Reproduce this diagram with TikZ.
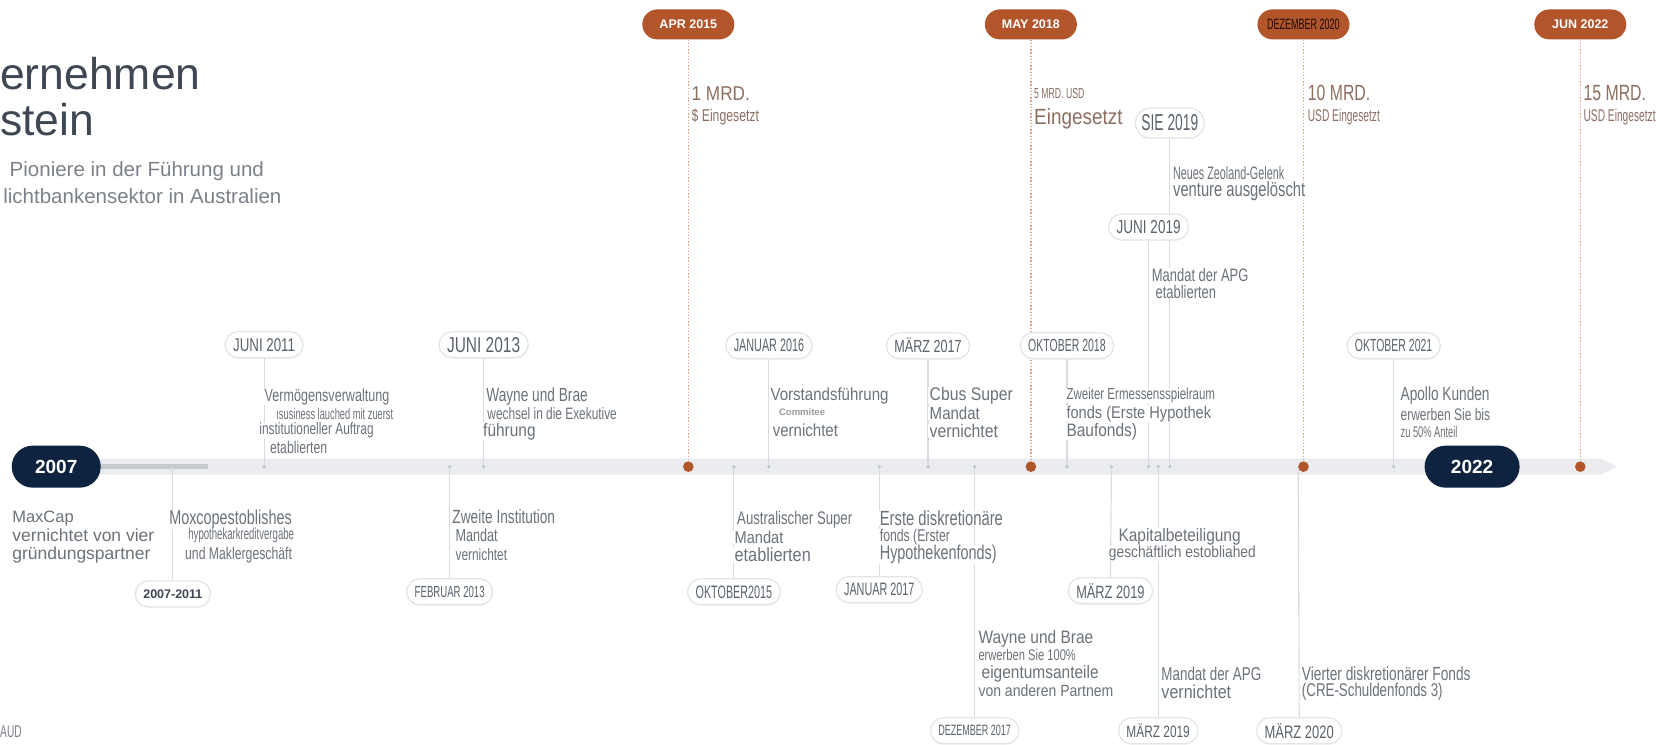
\documentclass[tikz,border=0pt]{standalone}
\usepackage{fontspec}
\setmainfont{Liberation Sans}
\newfontfamily\nara[FakeStretch=0.72]{Liberation Sans}
\newfontfamily\narb[FakeStretch=0.86]{Liberation Sans}
\newfontfamily\narc[FakeStretch=0.6]{Liberation Sans}
\usetikzlibrary{shadows}
\pgfdeclarelayer{bg}
\pgfsetlayers{bg,main}
\newcommand\fsz[1]{\fontsize{#1}{#1}\selectfont}
\definecolor{navy}{HTML}{0E2340}
\definecolor{rust}{HTML}{B2552B}
\definecolor{rustl}{HTML}{D9A68E}
\definecolor{axl}{HTML}{EAECEF}
\definecolor{axd}{HTML}{C6CACF}
\definecolor{connc}{HTML}{D8DBDF}
\definecolor{pdraw}{HTML}{E3E6E9}
\definecolor{ptext}{HTML}{5A626B}
\definecolor{dtext}{HTML}{6C727A}
\definecolor{mtext}{HTML}{8C6E61}
\definecolor{ttext}{HTML}{3F4752}
\definecolor{stext}{HTML}{7C8189}
\definecolor{gdot}{HTML}{C3C7CC}
\tikzset{
 gpill/.style={draw=pdraw, line width=1.3pt, fill=white, rounded corners=13pt, minimum height=26pt, inner xsep=8pt, inner ysep=2pt, text=ptext, drop shadow={shadow xshift=0pt, shadow yshift=-1.2pt, opacity=0.07}},
 opill/.style={fill=rust, rounded corners=15pt, minimum height=30pt, minimum width=92pt, text=white, font=\bfseries\fsz{12.5}},
 npill/.style={fill=navy, rounded corners=21pt, minimum height=42pt, text=white, font=\bfseries\fsz{19}},
 desc/.style={anchor=west, inner xsep=1.5pt, inner ysep=0pt, fill=white, text=dtext},
 money/.style={anchor=west, inner sep=1pt, text=mtext},
 conn/.style={draw=connc, line width=1.1pt},
 oline/.style={draw=rustl, line width=1.4pt, dash pattern=on 1.4pt off 1.8pt},
 ttl/.style={anchor=west, inner sep=0pt},
}
\begin{document}
\begin{tikzpicture}[x=1.0606pt,y=-1.0606pt]
\useasboundingbox (0,0) rectangle (1568,701.5);

% title
\node[ttl, text=ttext, font=\fsz{44.5}] (ti1) at (0,69) {ernehmen};
\node[ttl, text=ttext, font=\fsz{44.5}] (ti2) at (0,113) {stein};
\node[ttl, text=stext, font=\fsz{20.5}] (ti3) at (9,161) {Pioniere in der Führung und};
\node[ttl, text=stext, font=\fsz{20.5}] (ti4) at (3,185) {lichtbankensektor in Australien};
\node[ttl, text=stext, font=\narc\fsz{17}] (aud) at (0,690) {AUD};

% axis coordinates
\foreach \x in {249,424,456,692,725,829,875,919,1006,1048,1083,1092,1103,1224,1314,163}
  {\coordinate (a\x) at (\x,440);}
\foreach \x in {649,972,1229,1490}
  {\coordinate (o\x) at (\x,440);}

% orange milestone pills
\node[opill] (apr) at (649,23) {APR 2015};
\node[opill] (may) at (972,23) {MAY 2018};
\node[opill, font=\narc\fsz{15}, text=black!85!rust] (dez) at (1229,23) {DEZEMBER 2020};
\node[opill] (jun) at (1490,23) {JUN 2022};

\node[money, font=\narb\fsz{20}] (m1a) at (651,88) {1 MRD.};
\node[money, font=\nara\fsz{17}] (m1b) at (651,110) {\$ Eingesetzt};
\node[money, font=\narc\fsz{14.5}] (m2a) at (974,88) {5 MRD. USD};
\node[money, font=\narb\fsz{22}] (m2b) at (974,112) {Eingesetzt};
\node[money, font=\nara\fsz{22}] (m3a) at (1232,88) {10 MRD.};
\node[money, font=\narc\fsz{17}] (m3b) at (1232,110) {USD Eingesetzt};
\node[money, font=\nara\fsz{22}] (m4a) at (1492,88) {15 MRD.};
\node[money, font=\narc\fsz{17}] (m4b) at (1492,110) {USD Eingesetzt};

% year pills
\node[npill, minimum width=89pt] (y07) at (53,440) {2007};
\node[npill, minimum width=95pt] (y22) at (1388,440) {2022};

% above-axis events
\node[gpill, font=\nara\fsz{18.5}] (p11) at (249,325) {JUNI 2011};
\node[gpill, font=\nara\fsz{21.5}] (p13) at (456,325) {JUNI 2013};
\node[gpill, font=\narc\fsz{18}] (p16) at (725,326) {JANUAR 2016};
\node[gpill, font=\nara\fsz{17.5}] (p17) at (875,326) {MÄRZ 2017};
\node[gpill, font=\narc\fsz{17.5}] (p18) at (1006,326) {OKTOBER 2018};
\node[gpill, font=\narc\fsz{17.5}] (p21) at (1314,326) {OKTOBER 2021};
\node[gpill, font=\narc\fsz{23}, minimum height=30pt, rounded corners=15pt, inner xsep=6pt] (sie) at (1103,116) {SIE 2019};
\node[gpill, font=\nara\fsz{18.8}] (j19) at (1083,214) {JUNI 2019};

% below-axis pills
\node[gpill, font=\bfseries\fsz{12.5}, text=ttext] (p0711) at (163,560) {2007-2011};
\node[gpill, font=\narc\fsz{16}] (pfb) at (424,558) {FEBRUAR 2013};
\node[gpill, font=\narc\fsz{18}] (pok) at (692,558) {OKTOBER2015};
\node[gpill, font=\narc\fsz{18}] (pja) at (829,556) {JANUAR 2017};
\node[gpill, font=\nara\fsz{17.8}] (pm19) at (1047,557) {MÄRZ 2019};
\node[gpill, font=\narc\fsz{15}] (pdz) at (919,689) {DEZEMBER 2017};
\node[gpill, font=\nara\fsz{16.5}] (pm19b) at (1092,689) {MÄRZ 2019};
\node[gpill, font=\nara\fsz{18}] (pm20) at (1225,689) {MÄRZ 2020};

% connectors (background)
\begin{pgfonlayer}{bg}
\fill[axl] (15,432.5) -- (1510,432.5) -- (1525,440) -- (1510,447.5) -- (15,447.5) -- cycle;
\fill[axd] (90,437.5) rectangle (196,442.5);
\draw[oline] (apr.south) -- (o649);
\draw[oline] (may.south) -- (o972);
\draw[oline] (dez.south) -- (o1229);
\draw[oline] (jun.south) -- (o1490);
\draw[conn] (p11.south) -- (a249);
\draw[conn] (p13.south) -- (a456);
\draw[conn] (p16.south) -- (a725);
\draw[conn] (p17.south) -- (a875);
\draw[conn] (p18.south) -- (a1006);
\draw[conn] (p21.south) -- (a1314);
\draw[conn] (sie.south) -- (a1103);
\draw[conn] (j19.south) -- (a1083);
\draw[conn] (a163) -- (p0711.north);
\draw[conn] (a424) -- (pfb.north);
\draw[conn] (a692) -- (pok.north);
\draw[conn] (a829) -- (pja.north);
\draw[conn] (a1048) -- (pm19.north);
\draw[conn] (a919) -- (pdz.north);
\draw[conn] (a1092) -- (pm19b.north);
\draw[conn] (a1224) -- (pm20.north);
\end{pgfonlayer}

% descriptions above axis
\node[desc, font=\nara\fsz{17.5}] (d11a) at (248,374) {Vermögensverwaltung};
\node[desc, font=\narc\fsz{15.5}] (d11b) at (259,390) {ısusiness lauched mit zuerst};
\node[desc, font=\nara\fsz{16.5}] (d11c) at (243,406) {institutioneller Auftrag};
\node[desc, font=\nara\fsz{17}] (d11d) at (253,422) {etablierten};

\node[desc, font=\nara\fsz{19}] (d13a) at (457,374) {Wayne und Brae};
\node[desc, font=\nara\fsz{16.5}] (d13b) at (458,390) {wechsel in die Exekutive};
\node[desc, font=\narb\fsz{18}] (d13c) at (454,407) {führung};

\node[desc, font=\narb\fsz{17.5}] (d16a) at (725,373) {Vorstandsführung};
\node[desc, font=\bfseries\fsz{9.5}, text=gray!80] (d16b) at (733,389) {Commitee};
\node[desc, font=\narb\fsz{17.5}] (d16c) at (727,406) {vernichtet};

\node[desc, font=\narb\fsz{18.3}] (d17a) at (875,373) {Cbus Super};
\node[desc, font=\narb\fsz{17.5}] (d17b) at (875,390) {Mandat};
\node[desc, font=\narb\fsz{18.3}] (d17c) at (875,406) {vernichtet};

\node[desc, font=\nara\fsz{16}] (d18a) at (1004,373) {Zweiter Ermessensspielraum};
\node[desc, font=\narb\fsz{17}] (d18b) at (1004,390) {fonds (Erste Hypothek};
\node[desc, font=\narb\fsz{18}] (d18c) at (1004,407) {Baufonds)};

\node[desc, font=\nara\fsz{19}] (d21a) at (1319,373) {Apollo Kunden};
\node[desc, font=\nara\fsz{16.7}] (d21b) at (1319,391) {erwerben Sie bis};
\node[desc, font=\narc\fsz{15.5}] (d21c) at (1319,407) {zu 50\% Anteil};

\node[desc, font=\narc\fsz{18}] (dsa) at (1104.5,163) {Neues Zeoland-Gelenk};
\node[desc, font=\nara\fsz{20.5}] (dsb) at (1104.5,180) {venture ausgelöscht};
\node[desc, font=\nara\fsz{18}] (dja) at (1084.5,259) {Mandat der APG};
\node[desc, font=\nara\fsz{18}] (djb) at (1088,275) {etablierten};

% descriptions below axis
\node[desc, font=\fsz{16.5}] (mc1) at (10,489) {MaxCap};
\node[desc, font=\fsz{17.5}] (mc2) at (10,505) {vernichtet von vier};
\node[desc, font=\fsz{17.5}] (mc3) at (10,523) {gründungspartner};

\node[desc, font=\nara\fsz{20}] (mx1) at (158,490) {Moxcopestoblishes};
\node[desc, font=\narc\fsz{16}] (mx2) at (176,505) {hypothekarkreditvergabe};
\node[desc, font=\nara\fsz{17}] (mx3) at (173,523) {und Maklergeschäft};

\node[desc, font=\nara\fsz{19}] (fb1) at (425,487) {Zweite Institution};
\node[desc, font=\nara\fsz{17.5}] (fb2) at (428,505) {Mandat};
\node[desc, font=\nara\fsz{16.5}] (fb3) at (428,523) {vernichtet};

\node[desc, font=\nara\fsz{18.3}] (ok1) at (693.5,490) {Australischer Super};
\node[desc, font=\narb\fsz{17}] (ok2) at (691,507) {Mandat};
\node[desc, font=\narb\fsz{19}] (ok3) at (691,523) {etablierten};

\node[desc, font=\nara\fsz{20.5}] (ja1) at (828,489) {Erste diskretionäre};
\node[desc, font=\nara\fsz{17}] (ja2) at (828,506) {fonds (Erster};
\node[desc, font=\nara\fsz{20}] (ja3) at (828,523) {Hypothekenfonds)};

\node[desc, font=\narb\fsz{18}] (wb1) at (921,602) {Wayne und Brae};
\node[desc, font=\nara\fsz{15.5}] (wb2) at (921,618) {erwerben Sie 100\%};
\node[desc, font=\narb\fsz{18}] (wb3) at (924,635) {eigentumsanteile};
\node[desc, font=\narb\fsz{16.3}] (wb4) at (921,651) {von anderen Partnem};

\node[desc, font=\narb\fsz{18}] (kb1) at (1053,506) {Kapitalbeteiligung};
\node[desc, font=\narb\fsz{16}] (kb2) at (1044,522) {geschäftlich estobliahed};

\node[desc, font=\nara\fsz{18.6}] (ma1) at (1093.5,635) {Mandat der APG};
\node[desc, font=\narb\fsz{18.7}] (ma2) at (1093.5,652) {vernichtet};

\node[desc, font=\nara\fsz{19}] (vf1) at (1226,635) {Vierter diskretionärer Fonds};
\node[desc, font=\nara\fsz{18.5}] (vf2) at (1226,652) {(CRE-Schuldenfonds 3)};

% dots on the axis
\foreach \x in {249,424,456,692,725,829,875,919,1006,1048,1083,1092,1103,1314}
  {\fill[gdot] (a\x) circle (1.9pt);}
\foreach \x in {649,972,1229,1490}
  {\fill[rust] (o\x) circle (5.3pt);}
\end{tikzpicture}
\end{document}
